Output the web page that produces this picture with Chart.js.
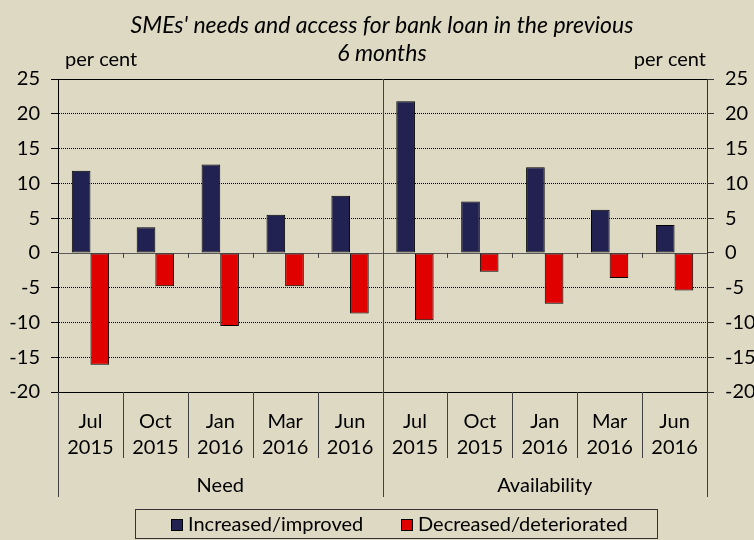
<!DOCTYPE html>
<html>
<head>
<meta charset="utf-8">
<script src="https://cdn.jsdelivr.net/npm/chart.js@4.4.1/dist/chart.umd.min.js"></script>
<style>
  html, body { margin: 0; padding: 0; background: #DDD9C3; }
  #wrap { width: 754px; height: 540px; }
</style>
</head>
<body>
<div id="wrap"><canvas id="chart" width="754" height="540"></canvas></div>
<script>
const categories = [
    ["Jul", "2015"], ["Oct", "2015"], ["Jan", "2016"], ["Mar", "2016"], ["Jun", "2016"],
    ["Jul", "2015"], ["Oct", "2015"], ["Jan", "2016"], ["Mar", "2016"], ["Jun", "2016"]
];
const groups = ["Need", "Availability"];
const increased = [11.8, 3.7, 12.7, 5.5, 8.2, 21.8, 7.4, 12.3, 6.2, 4.0];
const decreased = [-16.1, -4.8, -10.5, -4.8, -8.7, -9.7, -2.7, -7.3, -3.6, -5.4];
const seriesNames = ["Increased/improved", "Decreased/deteriorated"];
const titleLines = ["SMEs' needs and access for bank loan in the previous", "6 months"];
const unitLabel = "per cent";
const yMin = -20, yMax = 25, yStep = 5;

const FONT = "Lato, 'Open Sans', sans-serif";
const BLUE = "#212152";
const RED = "#E00000";
const LINE = "#404040";

const crisp = v => Math.round(v) + 0.5;

const decor = {
    id: "decor",
    beforeDatasetsDraw(chart) {
        const { ctx, chartArea: a, scales: { y } } = chart;
        ctx.save();
        ctx.lineWidth = 1;
        // zero line
        ctx.strokeStyle = "#5a5a5a";
        const y0 = crisp(y.getPixelForValue(0));
        ctx.beginPath(); ctx.moveTo(a.left, y0); ctx.lineTo(a.right, y0); ctx.stroke();
        // top and bottom border lines
        ctx.strokeStyle = "#000";
        for (const v of [yMax, yMin]) {
            const py = crisp(y.getPixelForValue(v));
            ctx.beginPath(); ctx.moveTo(a.left, py); ctx.lineTo(a.right, py); ctx.stroke();
        }
        ctx.restore();
    },
    afterDraw(chart) {
        const { ctx, chartArea: a, scales: { x, y } } = chart;
        const n = categories.length;
        const half = n / 2;
        const boundary = i => {
            if (i === 0) return a.left;
            if (i === n) return a.right;
            return (x.getPixelForValue(i - 1) + x.getPixelForValue(i)) / 2;
        };
        ctx.save();
        ctx.lineWidth = 1;
        ctx.strokeStyle = LINE;
        const y0 = y.getPixelForValue(0);
        for (let i = 0; i <= n; i++) {
            const bx = crisp(boundary(i));
            ctx.beginPath();
            if (i === half) {
                ctx.moveTo(bx, a.top); ctx.lineTo(bx, 497);
            } else if (i === 0 || i === n) {
                ctx.moveTo(bx, a.bottom); ctx.lineTo(bx, 497);
            } else {
                ctx.moveTo(bx, a.bottom); ctx.lineTo(bx, 458);
                ctx.moveTo(bx, y0); ctx.lineTo(bx, y0 + 5);
            }
            ctx.stroke();
        }

        // group labels
        ctx.fillStyle = "#000";
        ctx.font = `20px ${FONT}`;
        ctx.textAlign = "center";
        ctx.textBaseline = "middle";
        groups.forEach((g, k) => {
            const cx = (boundary(k * half) + boundary((k + 1) * half)) / 2;
            ctx.fillText(g, cx, 486);
        });

        // title
        ctx.font = `italic 23px ${FONT}`;
        ctx.textBaseline = "alphabetic";
        ctx.fillText(titleLines[0], 382, 33);
        ctx.fillText(titleLines[1], 382, 61);

        // unit labels
        ctx.font = `20px ${FONT}`;
        ctx.textAlign = "left";
        ctx.fillText(unitLabel, 65, 66);
        ctx.textAlign = "right";
        ctx.fillText(unitLabel, 706, 66);

        // legend
        ctx.strokeStyle = "#333";
        ctx.strokeRect(135.5, 509.5, 522, 29);
        ctx.font = `20px ${FONT}`;
        ctx.textAlign = "left";
        ctx.textBaseline = "middle";
        const items = [171, 401];
        chart.data.datasets.forEach((ds, k) => {
            const sx = items[k];
            ctx.fillStyle = ds.backgroundColor;
            ctx.fillRect(sx, 519, 12, 12);
            ctx.strokeStyle = "#000";
            ctx.strokeRect(sx + 0.5, 519.5, 11, 11);
            ctx.fillStyle = "#000";
            ctx.fillText(ds.label, sx + 17, 525);
        });
        ctx.restore();
    }
};

const yTickOpts = {
    stepSize: yStep,
    color: "#000",
    font: { family: FONT, size: 20 },
    padding: 11
};

new Chart(document.getElementById("chart"), {
    type: "bar",
    data: {
        labels: categories,
        datasets: [
            {
                label: seriesNames[0],
                data: increased,
                backgroundColor: BLUE,
                borderColor: "#000",
                borderWidth: 1,
                borderSkipped: false,
                yAxisID: "y"
            },
            {
                label: seriesNames[1],
                data: decreased,
                backgroundColor: RED,
                borderColor: "#000",
                borderWidth: 1,
                borderSkipped: false,
                yAxisID: "y"
            }
        ]
    },
    options: {
        responsive: false,
        animation: false,
        devicePixelRatio: 1,
        categoryPercentage: 0.575,
        barPercentage: 1,
        layout: { padding: { top: 79, left: 0, right: 0, bottom: 0 } },
        plugins: {
            legend: { display: false },
            title: { display: false },
            tooltip: { enabled: false }
        },
        scales: {
            x: {
                grid: { display: false },
                border: { display: false },
                ticks: {
                    color: "#000",
                    autoSkip: false,
                    maxRotation: 0,
                    padding: 9,
                    font: { family: FONT, size: 20, lineHeight: 1.3 }
                },
                afterFit(scale) { scale.height = 148; }
            },
            y: {
                position: "left",
                min: yMin,
                max: yMax,
                ticks: yTickOpts,
                grid: {
                    color: ctx => [yMin, 0, yMax].includes(ctx.tick.value) ? "rgba(0,0,0,0)" : "#000",
                    tickColor: "#000",
                    tickLength: 7,
                    lineWidth: 1
                },
                border: { display: true, color: "#000", width: 1, dash: [1, 1] },
                afterFit(scale) { scale.width = 58; }
            },
            y2: {
                position: "right",
                min: yMin,
                max: yMax,
                ticks: yTickOpts,
                grid: {
                    drawOnChartArea: false,
                    tickColor: "#333",
                    tickLength: 7
                },
                border: { display: true, color: "#333", width: 1 },
                afterFit(scale) { scale.width = 47; }
            }
        }
    },
    plugins: [decor]
});
</script>
</body>
</html>
